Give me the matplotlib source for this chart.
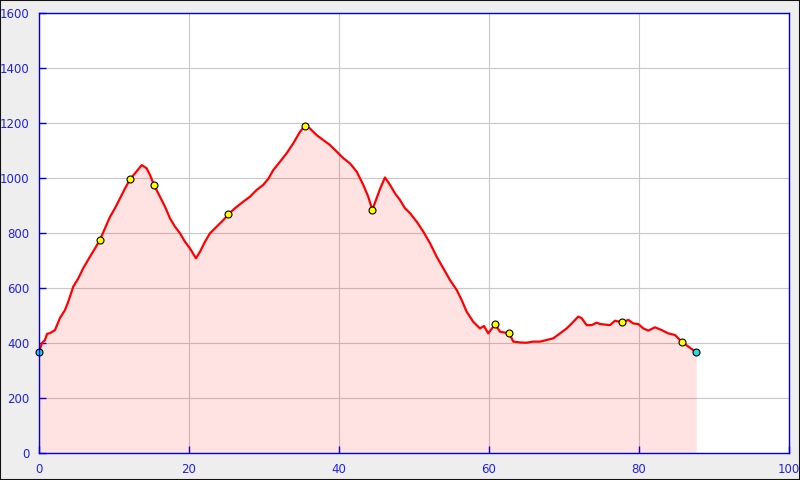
import matplotlib
matplotlib.use("Agg")
import matplotlib.pyplot as plt
from matplotlib.patches import Rectangle

distance_km = [0, 0.4, 0.8, 1.07, 1.47, 2.13, 2.8, 3.47, 3.9, 4.57, 5.24, 5.9, 6.8, 7.47,
               8.13, 8.8, 9.47, 10.13, 10.8, 11.47, 12.13, 12.8, 13.7, 14.36, 14.8, 15.33,
               16.13, 16.8, 17.47, 18.13, 18.8, 19.47, 20.13, 20.93, 21.47, 22.13, 22.8,
               23.69, 24.58, 25.24, 26.13, 27.24, 28.13, 29.0, 29.9, 30.6, 31.24, 32.13,
               33.02, 33.9, 34.8, 35.47, 36.13, 37.02, 37.9, 38.8, 39.69, 40.58, 41.47,
               42.36, 43.24, 43.9, 44.44, 44.9, 45.47, 46.13, 46.8, 47.47, 48.13, 48.8,
               49.47, 50.36, 51.24, 52.13, 53.02, 53.9, 54.8, 55.69, 56.36, 57.02, 57.9,
               58.8, 59.33, 59.9, 60.8, 61.47, 62.7, 63.24, 64.13, 65.0, 65.9, 66.8, 67.7,
               68.58, 69.47, 70.36, 71.24, 71.9, 72.36, 73.02, 73.69, 74.36, 74.8, 76.13,
               76.8, 77.78, 78.58, 79.24, 79.9, 80.58, 81.24, 82.13, 83.02, 83.9, 84.8,
               85.24, 85.78, 86.58, 87.64]
elevation_m = [367, 400, 411, 433, 436, 447, 491, 520, 550, 605, 635, 672, 714, 744,
               775, 817, 859, 890, 926, 962, 995, 1017, 1047, 1035, 1011, 975,
               932, 896, 853, 823, 799, 768, 744, 708, 732, 768, 799,
               823, 847, 868, 890, 914, 932, 956, 975, 998, 1029, 1059,
               1090, 1126, 1168, 1190, 1180, 1156, 1138, 1120, 1096, 1072, 1053,
               1023, 975, 932, 884, 918, 960, 1002, 975, 944, 920, 890,
               872, 841, 805, 763, 714, 672, 629, 593, 556, 514, 477,
               453, 462, 435, 468, 441, 435, 405, 402, 401, 405, 405, 411,
               417, 435, 453, 477, 496, 490, 465, 465, 474, 469, 465,
               481, 475, 484, 471, 469, 453, 445, 457, 447, 435, 429,
               417, 403, 387, 366]

waypoint_km = [8.13, 12.13, 15.33, 25.24, 35.47, 44.44, 60.8, 62.7, 77.78, 85.78]
waypoint_m = [775, 995, 975, 868, 1190, 884, 468, 435, 475, 403]
endpoint_km = [0, 87.64]
endpoint_m = [367, 366]

x_ticks = [0, 20, 40, 60, 80, 100]
y_ticks = [0, 200, 400, 600, 800, 1000, 1200, 1400, 1600]

fig = plt.figure(figsize=(8, 4.8), dpi=100, facecolor="#eeeeee")
fig.patches.append(Rectangle((0, 0), 1, 1, transform=fig.transFigure, fill=False,
                             edgecolor="#111111", linewidth=1.5))
ax = fig.add_axes([39/800, 27/480, 750/800, 440/480])
ax.set_facecolor("white")

ax.set_xlim(0, 100)
ax.set_ylim(0, 1600)
ax.set_xticks(x_ticks)
ax.set_yticks(y_ticks)
ax.set_axisbelow(True)
ax.grid(True, color="#c8c8c8", linewidth=0.8)

ax.fill_between(distance_km, elevation_m, 0, color="#ff0000", alpha=0.11,
                linewidth=0, zorder=2)
ax.plot(distance_km, elevation_m, color="#ff0000", linewidth=1.6, zorder=3)
ax.plot(waypoint_km, waypoint_m, linestyle="none", marker="o", markersize=5,
        markerfacecolor="#ffff00", markeredgecolor="black", markeredgewidth=0.8, zorder=4)
ax.plot(endpoint_km, endpoint_m, linestyle="none", marker="o", markersize=5,
        markerfacecolor="#22dddd", markeredgecolor="black", markeredgewidth=0.8, zorder=4,
        clip_on=False)

for s in ax.spines.values():
    s.set_color("#0000dd")
    s.set_linewidth(1.0)
    s.set_zorder(5)

ax.tick_params(axis="both", direction="in", length=5, width=1, color="#0000dd",
               labelcolor="#2222dd", labelsize=8.5, top=False, right=False)
ax.tick_params(axis="y", pad=7)
ax.tick_params(axis="x", pad=7)

fig.savefig("out.png", dpi=100, facecolor=fig.get_facecolor())
